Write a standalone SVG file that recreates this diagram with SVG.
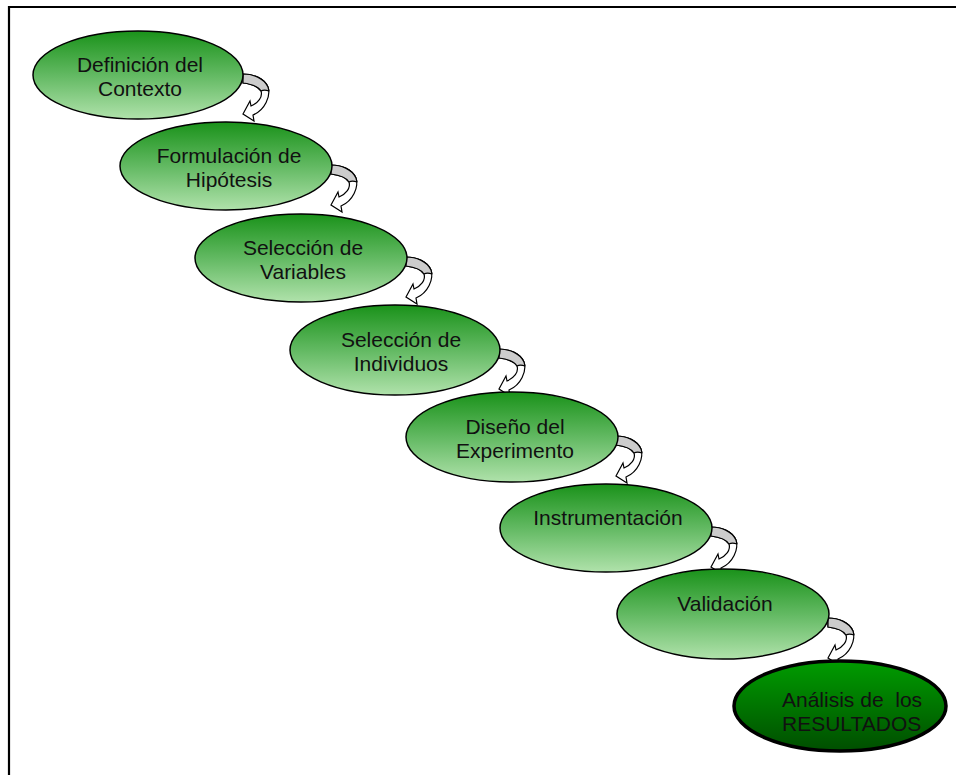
<svg xmlns="http://www.w3.org/2000/svg" xmlns:xlink="http://www.w3.org/1999/xlink" width="956" height="775" viewBox="0 0 956 775">
<style>
.frame{fill:none;stroke:#000;stroke-width:2.2}
.node{fill:url(#lg);stroke:#000;stroke-width:1.5}
.final{fill:url(#dg);stroke:#000;stroke-width:3.5}
.lbl{font-family:"Liberation Sans",Arial,sans-serif;font-size:21px;fill:#111;text-anchor:middle}
.lblf{font-family:"Liberation Sans",Arial,sans-serif;font-size:21px;fill:#111;white-space:pre}
.band{fill:#fff;stroke:#000;stroke-width:1.2;stroke-linejoin:miter}
.face{fill:#cccccc;stroke:#000;stroke-width:1.2;stroke-linejoin:round}
</style>
<defs>
<linearGradient id="lg" x1="0" y1="0" x2="0" y2="1">
<stop offset="0" stop-color="#1a921a"/>
<stop offset="0.5" stop-color="#62b962"/>
<stop offset="1" stop-color="#b0e2ab"/>
</linearGradient>
<linearGradient id="dg" x1="0" y1="0" x2="0" y2="1">
<stop offset="0" stop-color="#009c00"/>
<stop offset="1" stop-color="#004e00"/>
</linearGradient>
<g id="carrow">
<path class="band" d="M0,0 C10,0 21,4 25,13 C28,22 22,36 10,41 L11,47 L0,40 L7,27 L8,32 C15,29 20,23 18,17 C15,12 8,10 0,9 Z"/>
<path class="face" d="M0,0 C10,0 21,4 25,13 L26,17 C23,16 20,16 18,17 C15,12 8,10 0,9 Z"/>
</g>
</defs>
<rect x="0" y="0" width="956" height="775" fill="#fff"/>
<path class="frame" d="M9,780 V7 H960"/>
<g id="connectors">
<use xlink:href="#carrow" x="243" y="74"/>
<use xlink:href="#carrow" x="331" y="165"/>
<use xlink:href="#carrow" x="406" y="257"/>
<use xlink:href="#carrow" x="499" y="349"/>
<use xlink:href="#carrow" x="616" y="436"/>
<use xlink:href="#carrow" x="711" y="527"/>
<use xlink:href="#carrow" x="828" y="618"/>
</g>
<g id="n1"><ellipse class="node" cx="138" cy="75" rx="105" ry="44"/><text class="lbl" x="140" y="72">Definición del</text><text class="lbl" x="140" y="96">Contexto</text></g>
<g id="n2"><ellipse class="node" cx="226" cy="166" rx="106" ry="44"/><text class="lbl" x="229" y="163">Formulación de</text><text class="lbl" x="229" y="187">Hipótesis</text></g>
<g id="n3"><ellipse class="node" cx="301" cy="258" rx="106" ry="44"/><text class="lbl" x="303" y="255">Selección de</text><text class="lbl" x="303" y="279">Variables</text></g>
<g id="n4"><ellipse class="node" cx="395" cy="350" rx="105" ry="45"/><text class="lbl" x="401" y="347">Selección de</text><text class="lbl" x="401" y="371">Individuos</text></g>
<g id="n5"><ellipse class="node" cx="512" cy="437" rx="106" ry="45"/><text class="lbl" x="515" y="434">Diseño del</text><text class="lbl" x="515" y="458">Experimento</text></g>
<g id="n6"><ellipse class="node" cx="606" cy="528" rx="106" ry="44"/><text class="lbl" x="608" y="525">Instrumentación</text></g>
<g id="n7"><ellipse class="node" cx="723" cy="614" rx="106" ry="45"/><text class="lbl" x="725" y="611">Validación</text></g>
<g id="n8"><ellipse class="final" cx="840" cy="706" rx="106" ry="45"/><text class="lblf" x="782" y="707" xml:space="preserve">Análisis de  los</text><text class="lblf" x="782" y="731">RESULTADOS</text></g>
</svg>
